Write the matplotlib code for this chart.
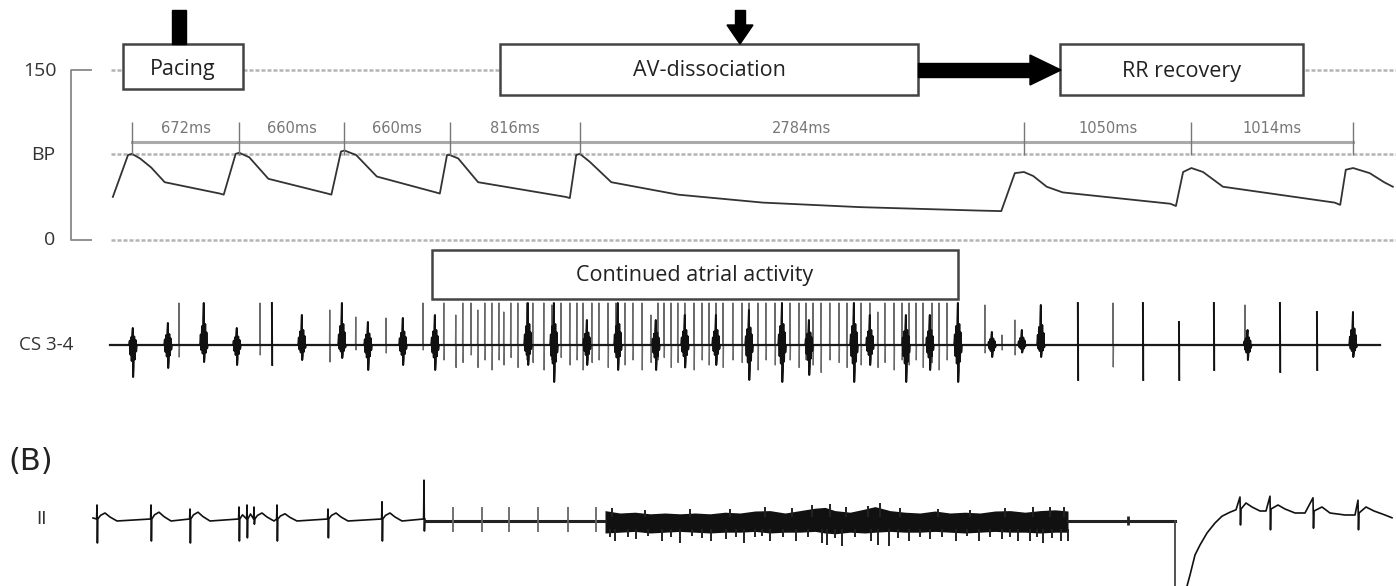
import numpy as np
import matplotlib.pyplot as plt
from matplotlib.patches import Rectangle, Polygon

plt.rcParams['font.family'] = ['Open Sans', 'DejaVu Sans']

W, H = 1396, 586

# ---------------- (A) arterial pressure ----------------
rr_ms = [672, 660, 660, 816, 2784, 1050, 1014]

# pressure trace vertices (ms, mmHg)
bp_t = [-120, -25, 0, 50, 120, 205, 550, 575,
        650, 672, 735, 855, 1225, 1250,
        1310, 1332, 1405, 1535, 1905, 1930,
        1975, 1992, 2045, 2170, 2720, 2745,
        2785, 2808, 2870, 3005, 3425, 3955, 4565, 5300, 5450,
        5535, 5592, 5650, 5735, 5835, 6510, 6545,
        6590, 6642, 6715, 6840, 7540, 7575,
        7610, 7656, 7760, 7850, 7905]
bp_mmhg = [38, 75, 76, 72, 64, 51, 41, 40,
           76, 77, 73, 54, 41, 40,
           78, 79, 75, 56, 42, 41,
           75, 75, 72, 51, 38, 37,
           75, 76, 69, 51, 40, 33, 29, 26, 25.5,
           59, 60, 56.5, 47, 42, 32, 30,
           60, 63.5, 60, 47, 33, 31,
           62, 63.5, 59, 51, 47]

# ---------------- CS 3-4 electrogram ----------------
# single deflections: time (ms), upward / downward amplitude, kind
# kind 0 = sharp atrial spike, 1 = broad ventricular complex, 2 = sharp dark spike
cs_t = [6, 226, 295, 451, 658, 803, 878, 1066, 1241, 1317,
        1404, 1480, 1593, 1699, 1825, 5348, 5392, 5455, 5536, 5580,
        5699, 5931, 6151, 6339, 6565, 6784, 6979, 6995, 7198, 7430,
        7656]
cs_up = [0.34, 0.44, 0.84, 0.84, 0.34, 0.84, 0.84, 0.60, 0.70, 0.84,
         0.56, 0.46, 0.54, 0.54, 0.84, 0.80, 0.26, 0.20, 0.50, 0.30,
         0.80, 0.84, 0.84, 0.84, 0.46, 0.84, 0.80, 0.30, 0.84, 0.66,
         0.66]
cs_dn = [-0.64, -0.46, -0.24, -0.34, -0.40, -0.20, -0.40, -0.30, -0.34, -0.26,
         -0.10, -0.50, -0.16, -0.40, -0.10, -0.16, -0.24, -0.10, -0.20, -0.15,
         -0.24, -0.70, -0.44, -0.70, -0.70, -0.50, -0.10, -0.30, -0.54, -0.50,
         -0.24]
cs_kind = [1, 1, 0, 1, 1, 0, 2, 1, 0, 1,
           0, 1, 0, 1, 0, 0, 1, 0, 0, 1,
           1, 2, 0, 2, 2, 2, 0, 1, 2, 2,
           1]

# continued atrial activity during AV dissociation
af_t = [1956, 2031, 2075, 2126, 2169, 2213, 2257, 2301, 2332, 2376,
        2420, 2477, 2514, 2583, 2633, 2690, 2746, 2790, 2828, 2884,
        2928, 2985, 3035, 3091, 3141, 3198, 3254, 3298, 3336, 3380,
        3423, 3467, 3524, 3574, 3618, 3662, 3706, 3768, 3825, 3869,
        3925, 3975, 4032, 4076, 4126, 4182, 4226, 4270, 4320, 4376,
        4433, 4483, 4527, 4571, 4627, 4677, 4721, 4778, 4828, 4872,
        4916, 4960, 5016, 5060, 5110, 5179]
af_up = [0.84, 0.60, 0.84, 0.84, 0.70, 0.84, 0.84, 0.84, 0.66, 0.84,
         0.84, 0.84, 0.84, 0.84, 0.80, 0.84, 0.84, 0.84, 0.84, 0.84,
         0.84, 0.84, 0.84, 0.84, 0.84, 0.84, 0.60, 0.84, 0.84, 0.84,
         0.84, 0.84, 0.84, 0.84, 0.84, 0.84, 0.84, 0.84, 0.84, 0.84,
         0.84, 0.84, 0.84, 0.84, 0.84, 0.84, 0.84, 0.84, 0.84, 0.84,
         0.84, 0.84, 0.84, 0.84, 0.84, 0.66, 0.84, 0.84, 0.84, 0.84,
         0.84, 0.84, 0.84, 0.84, 0.84, 0.84]
af_dn = [-0.30, -0.45, -0.35, -0.20, -0.45, -0.30, -0.50, -0.30, -0.40, -0.25,
         -0.45, -0.30, -0.35, -0.50, -0.30, -0.25, -0.40, -0.30, -0.50, -0.35,
         -0.30, -0.45, -0.25, -0.40, -0.30, -0.50, -0.35, -0.30, -0.25, -0.45,
         -0.35, -0.30, -0.50, -0.30, -0.40, -0.25, -0.45, -0.30, -0.35, -0.30,
         -0.50, -0.30, -0.40, -0.35, -0.30, -0.45, -0.30, -0.40, -0.55, -0.30,
         -0.35, -0.45, -0.30, -0.40, -0.30, -0.45, -0.35, -0.50, -0.30, -0.40,
         -0.30, -0.45, -0.35, -0.50, -0.30, -0.45]
# far-field ventricular complexes inside the atrial run
fv_t = [1900, 2483, 2646, 2853, 3047, 3285, 3467, 3662, 3869, 4076,
        4245, 4527, 4627, 4853, 5003, 5179]
fv_up = [0.60, 0.84, 0.84, 0.50, 0.84, 0.50, 0.60, 0.60, 0.70, 0.84,
         0.50, 0.84, 0.60, 0.60, 0.60, 0.84]
fv_dn = [-0.50, -0.40, -0.74, -0.40, -0.50, -0.50, -0.45, -0.40, -0.70, -0.74,
         -0.60, -0.74, -0.40, -0.74, -0.50, -0.74]

# ---------------- (B) lead II ----------------
ecg_beat_t = [0.97, 1.51, 1.90, 2.39, 2.47, 2.54, 2.77, 3.28, 3.82, 4.24]
ecg_r = [0.40, 0.40, 0.30, 0.35, 0.40, 0.35, 0.40, 0.30, 0.48, 1.02]
ecg_s = [-0.55, -0.50, -0.55, -0.50, -0.42, -0.08, -0.50, -0.42, -0.50, -0.25]
ecg_tw = [0.20, 0.22, 0.22, 0.22, 0.25, 0.20, 0.18, 0.20, 0.20, 0.0]
pace_t = [4.53, 4.82, 5.09, 5.38, 5.68, 5.96]

vf_t = [6.05, 6.20, 6.35, 6.50, 6.65, 6.80, 6.95, 7.10, 7.25, 7.40, 7.55,
        7.70, 7.85, 8.00, 8.15, 8.25, 8.35, 8.50, 8.65, 8.75, 8.90, 9.05,
        9.20, 9.35, 9.50, 9.65, 9.80, 9.95, 10.10, 10.25, 10.40, 10.55, 10.68]
vf_top = [0.26, 0.20, 0.22, 0.18, 0.20, 0.18, 0.20, 0.18, 0.22, 0.20, 0.25,
          0.26, 0.20, 0.26, 0.32, 0.34, 0.26, 0.22, 0.30, 0.36, 0.26, 0.22,
          0.20, 0.25, 0.20, 0.22, 0.20, 0.25, 0.26, 0.22, 0.26, 0.28, 0.25]
vf_bot = [-0.30, -0.28, -0.26, -0.30, -0.28, -0.26, -0.28, -0.30, -0.28, -0.28, -0.26,
          -0.30, -0.28, -0.28, -0.26, -0.30, -0.32, -0.28, -0.30, -0.28, -0.26, -0.28,
          -0.28, -0.26, -0.28, -0.30, -0.28, -0.26, -0.28, -0.28, -0.30, -0.28, -0.28]
vf_spk_t = [6.10, 6.15, 6.28, 6.36, 6.48, 6.62, 6.71, 6.80, 6.92, 7.02, 7.11, 7.26,
            7.36, 7.44, 7.55, 7.62, 7.70, 7.83, 7.96, 8.08, 8.22, 8.27, 8.35, 8.42,
            8.55, 8.71, 8.78, 8.89, 8.98, 9.09, 9.20, 9.30, 9.42, 9.56, 9.67, 9.79,
            9.90, 10.02, 10.10, 10.18, 10.30, 10.37, 10.43, 10.52, 10.61, 10.68]
vf_spk_v = [-0.40, -0.50, -0.40, -0.45, -0.38, -0.50, -0.40, -0.55, -0.38, -0.42, -0.50, -0.45,
            -0.40, -0.55, -0.40, -0.38, -0.50, -0.40, -0.50, -0.40, -0.55, -0.60, -0.42, -0.62,
            -0.40, -0.50, -0.60, -0.62, -0.42, -0.50, -0.40, -0.45, -0.40, -0.50, -0.38, -0.50,
            -0.40, -0.45, -0.40, -0.50, -0.50, -0.40, -0.55, -0.42, -0.50, -0.50]
vf_hi_t = [6.12, 6.45, 6.90, 7.30, 7.65, 7.92, 8.12, 8.30, 8.46, 8.68, 8.80, 9.00,
           9.38, 9.70, 10.05, 10.33, 10.50, 10.64]
vf_hi_v = [0.32, 0.28, 0.30, 0.30, 0.34, 0.32, 0.40, 0.42, 0.34, 0.38, 0.44, 0.32,
           0.30, 0.28, 0.32, 0.34, 0.36, 0.34]

rec_t = [11.84, 11.86, 11.90, 11.95, 12.00, 12.07, 12.15, 12.22, 12.30, 12.36,
         12.40, 12.405, 12.41, 12.46, 12.52, 12.60, 12.66, 12.70, 12.705, 12.71,
         12.78, 12.85, 12.95, 13.05, 13.13, 13.135, 13.14, 13.22, 13.30, 13.45,
         13.55, 13.58, 13.585, 13.59, 13.66, 13.74, 13.85, 13.92]
rec_v = [-2.2, -1.72, -1.35, -0.85, -0.60, -0.30, -0.05, 0.12, 0.22, 0.28,
         0.60, -0.10, 0.30, 0.45, 0.35, 0.25, 0.25, 0.62, -0.22, 0.30,
         0.40, 0.30, 0.20, 0.20, 0.58, -0.18, 0.25, 0.35, 0.20, 0.15,
         0.15, 0.52, -0.22, 0.20, 0.35, 0.25, 0.15, 0.08]

fig = plt.figure(figsize=(W / 100, H / 100), dpi=100)


def px_axes(top, bottom, left=0, right=W):
    ax = fig.add_axes([left / W, 1 - bottom / H, (right - left) / W, (bottom - top) / H])
    ax.set_axis_off()
    return ax


# shared time base of pressure and CS recordings
ms_lo, ms_hi = -132 / 0.1595, (W - 132) / 0.1595
beat_ms = np.concatenate([[0], np.cumsum(rr_ms)])

# ---- pressure ----
axbp = px_axes(70, 240)
axbp.set_xlim(ms_lo, ms_hi)
axbp.set_ylim(0, 150)
dot = dict(color='#b4b4b4', lw=1.8, ls=(0, (1.6, 0.8)))
for lvl in (150, 76, 0):
    axbp.plot([-130, ms_hi], [lvl, lvl], **dot, clip_on=False)
axbp.plot(bp_t, bp_mmhg, color='#333333', lw=1.3)
axbp.plot([beat_ms[0], beat_ms[-1]], [86.5, 86.5], color='#aaaaaa', lw=2.2)
axbp.vlines(beat_ms, 75, 104, color='#777777', lw=1.0)
for a, b, rr in zip(beat_ms[:-1], beat_ms[1:], rr_ms):
    axbp.text((a + b) / 2, 98.8, f'{rr}ms', family='DejaVu Sans', fontsize=10.5,
              color='#777777', ha='center', va='center')

# ---- CS 3-4 ----
axcs = px_axes(290, 400)
axcs.set_xlim(ms_lo, ms_hi)
axcs.set_ylim(-1.1, 1.1)
events = sorted(list(zip(cs_t, cs_up, cs_dn, cs_kind)) +
                [(t, u, d, 0) for t, u, d in zip(af_t, af_up, af_dn)])
xs, ys = [-140], [0]
for t, u, d, k in events:
    xs += [t - 3, t - 1, t + 1, t + 3]
    ys += [0, u, d, 0]
xs.append(7825)
ys.append(0)
axcs.plot(xs, ys, color='#6a6a6a', lw=0.9)
axcs.plot([-140, 7825], [0, 0], color='#1a1a1a', lw=1.6)
broad = [(t, u, d) for t, u, d, k in events if k == 1] + list(zip(fv_t, fv_up, fv_dn))
shape_dt = np.array([-24, -20, -16, -12, -8, -4, -1, 1, 4, 8, 12, 16, 20, 24])
shape_up = np.array([0, 0.25, 0, 0.45, 0, 0.6, 1, 0, 0, 0.5, 0, 0.3, 0, 0])
shape_dn = np.array([0, 0, 0.3, 0, 0.5, 0, 0, 1, 0.7, 0, 0.45, 0, 0.2, 0])
for t, u, d in broad:
    axcs.plot(t + shape_dt, u * shape_up + d * shape_dn, color='#111111', lw=1.4)
for t, u, d, k in events:
    if k == 2:
        axcs.plot([t - 1, t + 1], [u, d], color='#111111', lw=1.4)

# ---- lead II ----
axe = px_axes(460, H)
axe.set_xlim(0, W / 100)
axe.set_ylim(-1.625, 1.525)
ex, ey = [0.93], [0.075]
for i, (t, r, s, tw) in enumerate(zip(ecg_beat_t, ecg_r, ecg_s, ecg_tw)):
    nxt = ecg_beat_t[i + 1] if i + 1 < len(ecg_beat_t) else t + 0.03
    pts = [(t - 0.004, 0.05), (t, r), (t + 0.004, s), (t + 0.008, 0.05),
           (t + 0.035, 0.7 * tw), (t + 0.08, tw), (t + 0.13, 0.5 * tw), (t + 0.2, 0.0)]
    for a, b in pts:
        if a < nxt - 0.006 and a > ex[-1]:
            ex.append(a)
            ey.append(b)
axe.plot(ex, ey, color='#111111', lw=1.2)
axe.plot([4.25, 6.05], [0, 0], color='#222222', lw=2.2)
axe.vlines(pace_t, -0.28, 0.35, color='#666666', lw=1.3)
axe.fill_between(vf_t, vf_bot, vf_top, color='#111111', lw=0)
axe.vlines(vf_spk_t, -0.2, vf_spk_v, color='#222222', lw=1.4)
axe.vlines(vf_hi_t, 0.1, vf_hi_v, color='#222222', lw=1.4)
axe.plot([10.68, 11.75], [0, 0], color='#222222', lw=2.2)
axe.vlines([11.28], -0.1, 0.12, color='#222222', lw=2.0)
axe.plot([11.75, 11.75], [0, -3], color='#444444', lw=1.3)
axe.plot(rec_t, rec_v, color='#111111', lw=1.2)

# ---- annotation layer (pixel coordinates) ----
ax0 = px_axes(0, H)
ax0.set_xlim(0, W)
ax0.set_ylim(H, 0)

box_kw = dict(facecolor='white', edgecolor='#444444', lw=1.8, zorder=3)
ax0.add_patch(Rectangle((123, 44), 120, 45, **box_kw))
ax0.add_patch(Rectangle((500, 44), 418, 51, **box_kw))
ax0.add_patch(Rectangle((1060, 44), 243, 51, **box_kw))
ax0.add_patch(Rectangle((432, 250), 526, 49, **box_kw))

ax0.add_patch(Rectangle((172, 10), 14, 34, color='black', zorder=4))
ax0.add_patch(Rectangle((735, 10), 10, 17, color='black', zorder=4))
ax0.add_patch(Polygon([(727, 25), (753, 25), (740, 44)], closed=True, color='black', zorder=4))
ax0.add_patch(Rectangle((918, 63), 114, 14, color='black', zorder=4))
ax0.add_patch(Polygon([(1030, 55), (1030, 85), (1061, 70)], closed=True, color='black', zorder=4))

lab = dict(fontsize=15.5, color='#222222', ha='center', va='center', zorder=5)
ax0.text(183, 69, 'Pacing', **lab)
ax0.text(709, 71, 'AV-dissociation', **lab)
ax0.text(1181, 71, 'RR recovery', **lab)
ax0.text(695, 275, 'Continued atrial activity', **lab)

# pressure scale bracket
ax0.plot([91, 71, 71, 91], [70, 70, 240, 240], color='#888888', lw=1.3)
side = dict(fontsize=14, color='#333333', ha='right', va='center')
ax0.text(57, 71, '150', **side)
ax0.text(55, 155, 'BP', **side)
ax0.text(55, 240, '0', **side)
ax0.text(19, 345, 'CS 3-4', fontsize=13.5, color='#333333', ha='left', va='center')
ax0.text(8, 462, '(B)', family='DejaVu Sans', fontsize=22, color='#222222',
         ha='left', va='center')
ax0.text(36, 519, 'II', family='DejaVu Sans', fontsize=13, color='#333333',
         ha='left', va='center')

fig.savefig('out.png', dpi=100, facecolor='white')
